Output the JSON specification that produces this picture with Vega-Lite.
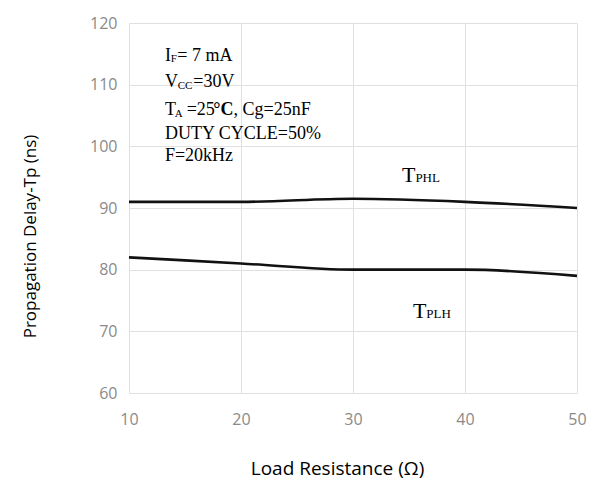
{
  "$schema": "https://vega.github.io/schema/vega-lite/v6.json",
  "width": 448,
  "height": 370,
  "autosize": {"type": "none"},
  "padding": {"left": 129, "top": 23, "right": 12, "bottom": 89},
  "background": "white",
  "config": {
    "view": {"stroke": null},
    "axis": {
      "grid": true,
      "gridColor": "#e0e0e0",
      "gridWidth": 1,
      "domain": false,
      "ticks": false,
      "labelFlush": false,
      "labelColor": "#8a8a8a",
      "labelFont": "Open Sans",
      "labelFontSize": 16,
      "titleColor": "#000000",
      "titleFont": "Open Sans",
      "titleFontSize": 17,
      "titleFontWeight": "normal"
    }
  },
  "datasets": {
    "curves": [
      {"R": 10, "Tp": 91.0, "series": "TPHL"},
      {"R": 20, "Tp": 91.0, "series": "TPHL"},
      {"R": 30, "Tp": 91.5, "series": "TPHL"},
      {"R": 40, "Tp": 91.0, "series": "TPHL"},
      {"R": 50, "Tp": 90.0, "series": "TPHL"},
      {"R": 10, "Tp": 82.0, "series": "TPLH"},
      {"R": 20, "Tp": 81.0, "series": "TPLH"},
      {"R": 30, "Tp": 80.0, "series": "TPLH"},
      {"R": 40, "Tp": 80.0, "series": "TPLH"},
      {"R": 50, "Tp": 79.0, "series": "TPLH"}
    ],
    "mainText": [
      {"R": 13.21, "Tp": 113.89, "t": "I"},
      {"R": 14.31, "Tp": 113.89, "t": "= 7 mA"},
      {"R": 13.21, "Tp": 109.57, "t": "V"},
      {"R": 15.74, "Tp": 109.57, "t": "=30V"},
      {"R": 13.21, "Tp": 105.08, "t": "T"},
      {"R": 15.15, "Tp": 105.08, "t": "=25"},
      {"R": 19.33, "Tp": 105.08, "t": ", Cg=25nF"},
      {"R": 13.21, "Tp": 101.19, "t": "DUTY CYCLE=50%"},
      {"R": 13.21, "Tp": 97.67, "t": "F=20kHz"}
    ],
    "boldText": [
      {"R": 17.53, "Tp": 105.08, "t": "°C"}
    ],
    "subText": [
      {"R": 13.72, "Tp": 113.6, "t": "F"},
      {"R": 14.35, "Tp": 109.28, "t": "CC"},
      {"R": 14.08, "Tp": 104.79, "t": "A"}
    ],
    "bigT": [
      {"R": 34.38, "Tp": 94.22, "t": "T"},
      {"R": 35.36, "Tp": 72.16, "t": "T"}
    ],
    "smallCaps": [
      {"R": 35.57, "Tp": 94.22, "t": "PHL"},
      {"R": 36.55, "Tp": 72.16, "t": "PLH"}
    ]
  },
  "encoding": {
    "x": {
      "field": "R",
      "type": "quantitative",
      "scale": {"domain": [10, 50], "nice": false, "zero": false},
      "axis": {
        "title": "Load Resistance (Ω)",
        "values": [10, 20, 30, 40, 50],
        "labelPadding": 18,
        "titleFontSize": 19,
        "titleX": 208,
        "titleY": 75,
        "titleBaseline": "middle"
      }
    },
    "y": {
      "field": "Tp",
      "type": "quantitative",
      "scale": {"domain": [60, 120], "nice": false, "zero": false},
      "axis": {
        "title": "Propagation Delay-Tp (ns)",
        "values": [60, 70, 80, 90, 100, 110, 120],
        "labelPadding": 12,
        "titleX": -99,
        "titleY": 213,
        "titleBaseline": "middle",
        "titleAngle": -90
      }
    }
  },
  "layer": [
    {
      "data": {"name": "curves"},
      "mark": {"type": "line", "color": "#111111", "strokeWidth": 2.6, "interpolate": "monotone"},
      "encoding": {"detail": {"field": "series", "type": "nominal"}}
    },
    {
      "data": {"name": "mainText"},
      "mark": {"type": "text", "font": "Liberation Serif", "fontSize": 18, "align": "left", "baseline": "alphabetic", "color": "#000000"},
      "encoding": {"text": {"field": "t"}}
    },
    {
      "data": {"name": "boldText"},
      "mark": {"type": "text", "font": "Liberation Serif", "fontSize": 18, "fontWeight": "bold", "align": "left", "baseline": "alphabetic", "color": "#000000"},
      "encoding": {"text": {"field": "t"}}
    },
    {
      "data": {"name": "subText"},
      "mark": {"type": "text", "font": "Liberation Serif", "fontSize": 11, "align": "left", "baseline": "alphabetic", "color": "#000000"},
      "encoding": {"text": {"field": "t"}}
    },
    {
      "data": {"name": "bigT"},
      "mark": {"type": "text", "font": "Liberation Serif", "fontSize": 22, "align": "left", "baseline": "alphabetic", "color": "#000000"},
      "encoding": {"text": {"field": "t"}}
    },
    {
      "data": {"name": "smallCaps"},
      "mark": {"type": "text", "font": "Liberation Serif", "fontSize": 13, "align": "left", "baseline": "alphabetic", "color": "#000000"},
      "encoding": {"text": {"field": "t"}}
    }
  ]
}
